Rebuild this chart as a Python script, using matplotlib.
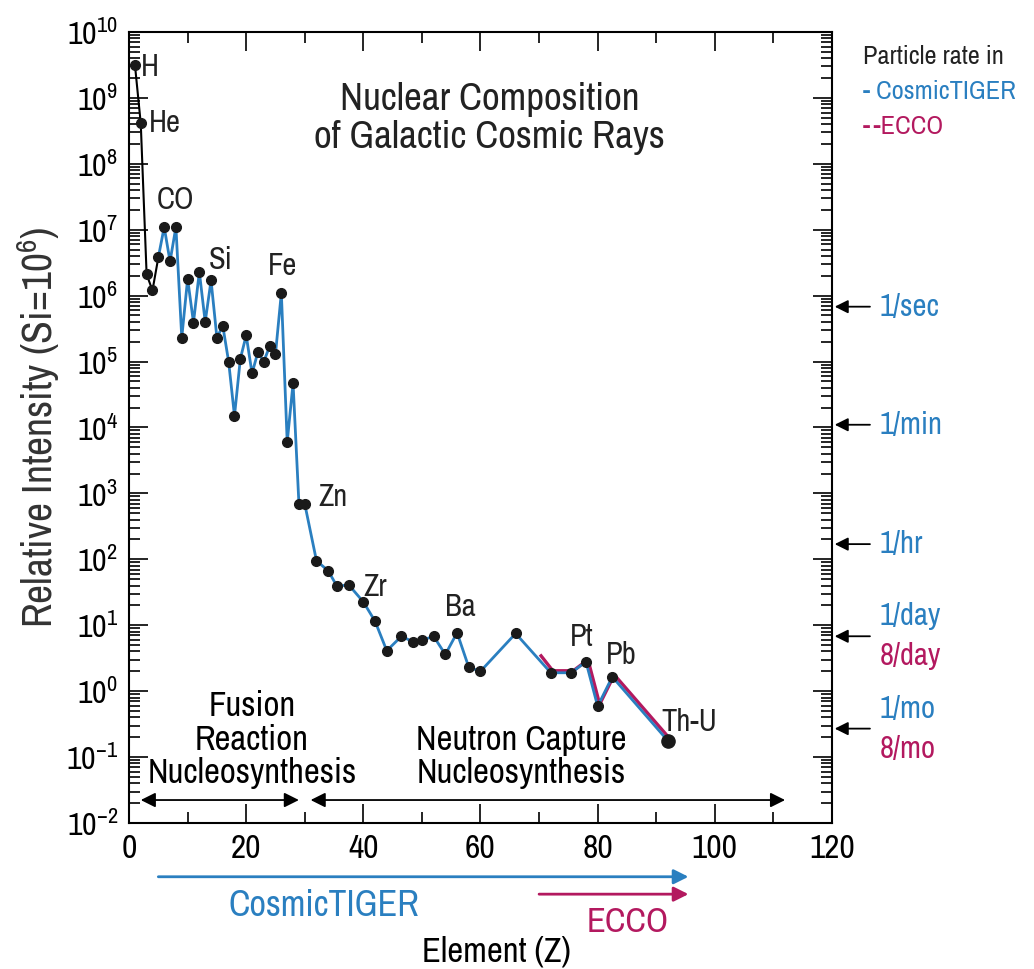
import numpy as np
import matplotlib
matplotlib.use("Agg")
import matplotlib.pyplot as plt
from matplotlib import font_manager
from matplotlib.ticker import LogLocator, MultipleLocator, NullFormatter
import matplotlib.transforms as mtransforms

# look for a narrow / condensed sans face, the original uses a condensed font
fam, stretch = 'DejaVu Sans', 'normal'
narrow = []
for f in font_manager.fontManager.ttflist:
    st = str(f.stretch)
    if (('Narrow' in f.name or 'Condensed' in f.name or 'condensed' in st)
            and f.style == 'normal' and f.weight in (400, 'normal', 'regular')):
        narrow.append(f)
narrow.sort(key=lambda f: (0 if 'Narrow' in f.name else 1, f.name))
if narrow:
    fam, stretch = narrow[0].name, str(narrow[0].stretch)
plt.rcParams.update({'font.family': [fam, 'DejaVu Sans'], 'font.stretch': stretch,
                     'mathtext.fontset': 'custom', 'mathtext.rm': fam,
                     'mathtext.default': 'regular'})

blue = '#2a7fc0'
magenta = '#b3195f'

# element Z and relative intensity (Si = 1e6)
z = [1, 2, 3, 4, 5, 6, 7, 8, 9, 10, 11, 12, 13, 14, 15, 16, 17, 18, 19, 20,
     21, 22, 23, 24, 25, 26, 27, 28, 29, 30, 32, 34, 35.5, 37.5, 40, 42, 44,
     46.5, 48.5, 50, 52, 54, 56, 58, 60, 66, 72, 75.5, 78, 80, 82.5, 92]
intensity = [3.2e9, 4.1e8, 2.1e6, 1.2e6, 3.8e6, 1.1e7, 3.3e6, 1.1e7, 2.3e5,
             1.8e6, 3.9e5, 2.3e6, 4.0e5, 1.7e6, 2.3e5, 3.5e5, 1.0e5, 1.5e4,
             1.1e5, 2.5e5, 6.6e4, 1.4e5, 1.0e5, 1.7e5, 1.3e5, 1.1e6, 6.0e3,
             4.7e4, 7.0e2, 6.9e2, 95, 67, 39, 41, 22.6, 11.5, 4.1, 6.8, 5.6,
             5.9, 6.8, 3.6, 7.7, 2.3, 2.0, 7.5, 1.9, 1.9, 2.8, 0.59, 1.65, 0.176]
n_black = 5  # H..B drawn in black

ecco_z = [70, 72, 75.5, 78, 80, 82.5, 92]
ecco_int = [3.2, 1.9, 1.9, 2.8, 0.59, 1.65, 0.176]

elem_labels = ['H', 'He', 'CO', 'Si', 'Fe', 'Zn', 'Zr', 'Ba', 'Pt', 'Pb', 'Th-U']
elem_pos = [(3.6, 2.9e9), (6.1, 4.1e8), (8.0, 2.8e7), (15.6, 3.5e6),
            (26.2, 2.8e6), (34.8, 8.9e2), (42, 38), (56.5, 19), (77.2, 6.6),
            (84.1, 3.5), (95.7, 0.34)]

rate_levels = [6.8e5, 1.1e4, 1.7e2, 6.8, 0.27]
rate_tiger = ['1/sec', '1/min', '1/hr', '1/day', '1/mo']
rate_ecco = [None, None, None, '8/day', '8/mo']

fig = plt.figure(figsize=(10.34, 9.69), dpi=100)
ax = fig.add_axes([0.1248, 0.1507, 0.6798, 0.8163])

ax.plot(z[:n_black], intensity[:n_black], color='black', lw=1.5, zorder=3)
off = mtransforms.offset_copy(ax.transData, fig=fig, x=2, y=2, units='dots')
ax.plot(ecco_z, ecco_int, color=magenta, lw=2.4, transform=off, zorder=3)
ax.plot(z[n_black - 1:], intensity[n_black - 1:], color=blue, lw=2, zorder=3)
ax.plot(z, intensity, 'o', color='#1a1a1a', ms=7, zorder=4)
ax.plot(z[-1:], intensity[-1:], 'o', color='#1a1a1a', ms=9.5, zorder=4)

for lab, (lx, ly) in zip(elem_labels, elem_pos):
    ax.text(lx, ly, lab, fontsize=22, ha='center', va='center', color='#222222')

ax.set_yscale('log')
ax.set_xlim(0, 120)
ax.set_ylim(1e-2, 1e10)
ax.xaxis.set_major_locator(MultipleLocator(20))
ax.xaxis.set_minor_locator(MultipleLocator(10))
ax.yaxis.set_major_locator(LogLocator(base=10, numticks=20))
ax.yaxis.set_minor_locator(LogLocator(base=10, subs=np.arange(2, 10), numticks=200))
ax.yaxis.set_minor_formatter(NullFormatter())
ax.tick_params(which='both', direction='in', top=True, right=True, width=1.2)
ax.tick_params(which='major', length=14, labelsize=24, pad=8)
ax.tick_params(which='minor', length=8)
ax.tick_params(axis='y', which='major', labelsize=23)
for s in ax.spines.values():
    s.set_linewidth(1.5)

ax.set_xlabel('Element (Z)', fontsize=25)
ax.xaxis.set_label_coords(0.523, -0.142)
ax.set_ylabel('Relative Intensity (Si=10$^6$)', fontsize=30, color='#333333')
ax.yaxis.set_label_coords(-0.095, 0.5)

ax.text(0.513, 0.891, 'Nuclear Composition\nof Galactic Cosmic Rays', transform=ax.transAxes,
        fontsize=28, ha='center', va='center', linespacing=1.1, color='#222222')

# nucleosynthesis regions
xa = ax.get_xaxis_transform()
ax.text(21, 0.043, 'Fusion\nReaction\nNucleosynthesis', transform=xa,
        fontsize=25, ha='center', va='bottom', linespacing=1.05)
ax.text(67, 0.043, 'Neutron Capture\nNucleosynthesis', transform=xa,
        fontsize=25, ha='center', va='bottom', linespacing=1.05)
arr = dict(arrowstyle='<|-|>', color='black', lw=1.3, mutation_scale=22, shrinkA=0, shrinkB=0)
ax.annotate('', xy=(2, 0.029), xytext=(29, 0.029), xycoords=xa, textcoords=xa, arrowprops=arr)
ax.annotate('', xy=(31, 0.029), xytext=(112, 0.029), xycoords=xa, textcoords=xa, arrowprops=arr)

# experiment coverage arrows under the axis
ax.annotate('', xy=(95.5, -0.068), xytext=(5, -0.068), xycoords=xa, textcoords=xa,
            arrowprops=dict(arrowstyle='-|>', color=blue, lw=2, mutation_scale=22,
                            shrinkA=0, shrinkB=0), annotation_clip=False)
ax.annotate('', xy=(95.5, -0.090), xytext=(70, -0.090), xycoords=xa, textcoords=xa,
            arrowprops=dict(arrowstyle='-|>', color=magenta, lw=2, mutation_scale=22,
                            shrinkA=0, shrinkB=0), annotation_clip=False)
ax.text(33.3, -0.104, 'CosmicTIGER', transform=xa, fontsize=26, color=blue,
        ha='center', va='center')
ax.text(85.1, -0.125, 'ECCO', transform=xa, fontsize=25, color=magenta,
        ha='center', va='center')

# particle rates on the right
ya = ax.get_yaxis_transform()
ax.text(1.044, 0.969, 'Particle rate in', transform=ax.transAxes, fontsize=19,
        ha='left', va='center', color='#222222')
ax.text(1.044, 0.9245, '- CosmicTIGER', transform=ax.transAxes, fontsize=19,
        ha='left', va='center', color=blue)
ax.text(1.044, 0.880, '-\u2009-ECCO', transform=ax.transAxes, fontsize=19,
        ha='left', va='center', color=magenta)
for lvl, t1, t2 in zip(rate_levels, rate_tiger, rate_ecco):
    ax.annotate('', xy=(1.0, lvl), xycoords=ya, xytext=(38, 0), textcoords='offset pixels',
                arrowprops=dict(arrowstyle='-|>', color='black', lw=1.3, mutation_scale=20,
                                shrinkA=0, shrinkB=2), annotation_clip=False)
    if t2 is None:
        ax.annotate(t1, xy=(1.0, lvl), xycoords=ya, xytext=(48, 0), textcoords='offset pixels',
                    fontsize=22, color=blue, ha='left', va='center', annotation_clip=False)
    else:
        ax.annotate(t1, xy=(1.0, lvl), xycoords=ya, xytext=(48, 20), textcoords='offset pixels',
                    fontsize=22, color=blue, ha='left', va='center', annotation_clip=False)
        ax.annotate(t2, xy=(1.0, lvl), xycoords=ya, xytext=(48, -20), textcoords='offset pixels',
                    fontsize=22, color=magenta, ha='left', va='center', annotation_clip=False)

fig.savefig('out.png', dpi=100)
